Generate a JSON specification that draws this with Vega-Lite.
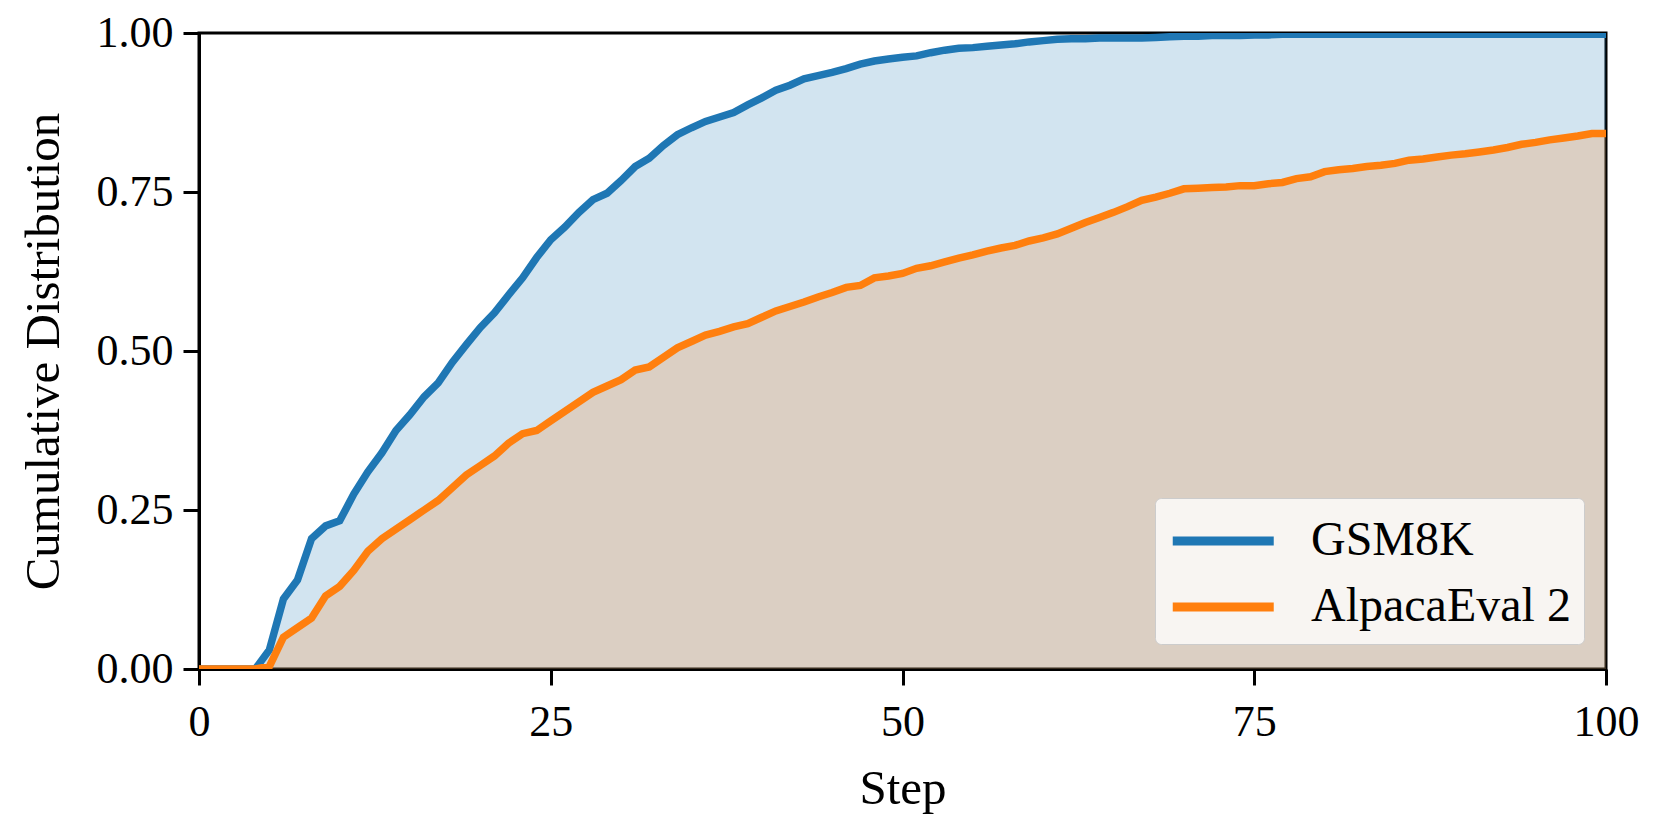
{
  "$schema": "https://vega.github.io/schema/vega-lite/v6.json",
  "autosize": "none",
  "width": 1407,
  "height": 636,
  "padding": {"left": 199, "top": 33, "right": 55, "bottom": 159},
  "background": "white",
  "config": {
    "view": {"stroke": "black", "strokeWidth": 3},
    "font": "Liberation Serif",
    "axis": {
      "labelFont": "Liberation Serif",
      "titleFont": "Liberation Serif",
      "labelFontSize": 44,
      "titleFontSize": 49,
      "titleFontWeight": "normal",
      "labelColor": "black",
      "titleColor": "black",
      "domainColor": "black",
      "domainWidth": 3,
      "tickColor": "black",
      "tickWidth": 3,
      "tickSize": 16,
      "grid": false
    }
  },
  "datasets": {
    "cdf": [
      {"step":0,"series":"GSM8K","value":0},{"step":1,"series":"GSM8K","value":0},{"step":2,"series":"GSM8K","value":0},{"step":3,"series":"GSM8K","value":0},{"step":4,"series":"GSM8K","value":0},
      {"step":5,"series":"GSM8K","value":0.03},{"step":6,"series":"GSM8K","value":0.11},{"step":7,"series":"GSM8K","value":0.14},{"step":8,"series":"GSM8K","value":0.205},{"step":9,"series":"GSM8K","value":0.225},
      {"step":10,"series":"GSM8K","value":0.233},{"step":11,"series":"GSM8K","value":0.275},{"step":12,"series":"GSM8K","value":0.31},{"step":13,"series":"GSM8K","value":0.34},{"step":14,"series":"GSM8K","value":0.375},
      {"step":15,"series":"GSM8K","value":0.4},{"step":16,"series":"GSM8K","value":0.428},{"step":17,"series":"GSM8K","value":0.45},{"step":18,"series":"GSM8K","value":0.482},{"step":19,"series":"GSM8K","value":0.51},
      {"step":20,"series":"GSM8K","value":0.537},{"step":21,"series":"GSM8K","value":0.56},{"step":22,"series":"GSM8K","value":0.588},{"step":23,"series":"GSM8K","value":0.615},{"step":24,"series":"GSM8K","value":0.647},
      {"step":25,"series":"GSM8K","value":0.675},{"step":26,"series":"GSM8K","value":0.695},{"step":27,"series":"GSM8K","value":0.718},{"step":28,"series":"GSM8K","value":0.738},{"step":29,"series":"GSM8K","value":0.748},
      {"step":30,"series":"GSM8K","value":0.768},{"step":31,"series":"GSM8K","value":0.79},{"step":32,"series":"GSM8K","value":0.803},{"step":33,"series":"GSM8K","value":0.823},{"step":34,"series":"GSM8K","value":0.84},
      {"step":35,"series":"GSM8K","value":0.851},{"step":36,"series":"GSM8K","value":0.861},{"step":37,"series":"GSM8K","value":0.868},{"step":38,"series":"GSM8K","value":0.875},{"step":39,"series":"GSM8K","value":0.887},
      {"step":40,"series":"GSM8K","value":0.898},{"step":41,"series":"GSM8K","value":0.91},{"step":42,"series":"GSM8K","value":0.918},{"step":43,"series":"GSM8K","value":0.928},{"step":44,"series":"GSM8K","value":0.933},
      {"step":45,"series":"GSM8K","value":0.938},{"step":46,"series":"GSM8K","value":0.944},{"step":47,"series":"GSM8K","value":0.951},{"step":48,"series":"GSM8K","value":0.956},{"step":49,"series":"GSM8K","value":0.959},
      {"step":50,"series":"GSM8K","value":0.962},{"step":51,"series":"GSM8K","value":0.964},{"step":52,"series":"GSM8K","value":0.969},{"step":53,"series":"GSM8K","value":0.973},{"step":54,"series":"GSM8K","value":0.976},
      {"step":55,"series":"GSM8K","value":0.977},{"step":56,"series":"GSM8K","value":0.979},{"step":57,"series":"GSM8K","value":0.981},{"step":58,"series":"GSM8K","value":0.983},{"step":59,"series":"GSM8K","value":0.986},
      {"step":60,"series":"GSM8K","value":0.988},{"step":61,"series":"GSM8K","value":0.99},{"step":62,"series":"GSM8K","value":0.991},{"step":63,"series":"GSM8K","value":0.991},{"step":64,"series":"GSM8K","value":0.992},
      {"step":65,"series":"GSM8K","value":0.992},{"step":66,"series":"GSM8K","value":0.992},{"step":67,"series":"GSM8K","value":0.992},{"step":68,"series":"GSM8K","value":0.993},{"step":69,"series":"GSM8K","value":0.994},
      {"step":70,"series":"GSM8K","value":0.995},{"step":71,"series":"GSM8K","value":0.995},{"step":72,"series":"GSM8K","value":0.996},{"step":73,"series":"GSM8K","value":0.996},{"step":74,"series":"GSM8K","value":0.996},
      {"step":75,"series":"GSM8K","value":0.997},{"step":76,"series":"GSM8K","value":0.997},{"step":77,"series":"GSM8K","value":0.998},{"step":78,"series":"GSM8K","value":0.998},{"step":79,"series":"GSM8K","value":0.998},
      {"step":80,"series":"GSM8K","value":0.998},{"step":81,"series":"GSM8K","value":0.998},{"step":82,"series":"GSM8K","value":0.998},{"step":83,"series":"GSM8K","value":0.998},{"step":84,"series":"GSM8K","value":0.998},
      {"step":85,"series":"GSM8K","value":0.998},{"step":86,"series":"GSM8K","value":0.998},{"step":87,"series":"GSM8K","value":0.998},{"step":88,"series":"GSM8K","value":0.998},{"step":89,"series":"GSM8K","value":0.998},
      {"step":90,"series":"GSM8K","value":0.998},{"step":91,"series":"GSM8K","value":0.998},{"step":92,"series":"GSM8K","value":0.998},{"step":93,"series":"GSM8K","value":0.998},{"step":94,"series":"GSM8K","value":0.998},
      {"step":95,"series":"GSM8K","value":0.998},{"step":96,"series":"GSM8K","value":0.998},{"step":97,"series":"GSM8K","value":0.998},{"step":98,"series":"GSM8K","value":0.998},{"step":99,"series":"GSM8K","value":0.998},
      {"step":100,"series":"GSM8K","value":0.998},
      {"step":0,"series":"AlpacaEval 2","value":0},{"step":1,"series":"AlpacaEval 2","value":0},{"step":2,"series":"AlpacaEval 2","value":0},{"step":3,"series":"AlpacaEval 2","value":0},{"step":4,"series":"AlpacaEval 2","value":0},
      {"step":5,"series":"AlpacaEval 2","value":0.004},{"step":6,"series":"AlpacaEval 2","value":0.05},{"step":7,"series":"AlpacaEval 2","value":0.065},{"step":8,"series":"AlpacaEval 2","value":0.08},{"step":9,"series":"AlpacaEval 2","value":0.115},
      {"step":10,"series":"AlpacaEval 2","value":0.13},{"step":11,"series":"AlpacaEval 2","value":0.155},{"step":12,"series":"AlpacaEval 2","value":0.185},{"step":13,"series":"AlpacaEval 2","value":0.205},{"step":14,"series":"AlpacaEval 2","value":0.22},
      {"step":15,"series":"AlpacaEval 2","value":0.235},{"step":16,"series":"AlpacaEval 2","value":0.25},{"step":17,"series":"AlpacaEval 2","value":0.265},{"step":18,"series":"AlpacaEval 2","value":0.285},{"step":19,"series":"AlpacaEval 2","value":0.305},
      {"step":20,"series":"AlpacaEval 2","value":0.32},{"step":21,"series":"AlpacaEval 2","value":0.335},{"step":22,"series":"AlpacaEval 2","value":0.355},{"step":23,"series":"AlpacaEval 2","value":0.37},{"step":24,"series":"AlpacaEval 2","value":0.375},
      {"step":25,"series":"AlpacaEval 2","value":0.39},{"step":26,"series":"AlpacaEval 2","value":0.405},{"step":27,"series":"AlpacaEval 2","value":0.42},{"step":28,"series":"AlpacaEval 2","value":0.435},{"step":29,"series":"AlpacaEval 2","value":0.445},
      {"step":30,"series":"AlpacaEval 2","value":0.455},{"step":31,"series":"AlpacaEval 2","value":0.47},{"step":32,"series":"AlpacaEval 2","value":0.475},{"step":33,"series":"AlpacaEval 2","value":0.49},{"step":34,"series":"AlpacaEval 2","value":0.505},
      {"step":35,"series":"AlpacaEval 2","value":0.515},{"step":36,"series":"AlpacaEval 2","value":0.525},{"step":37,"series":"AlpacaEval 2","value":0.531},{"step":38,"series":"AlpacaEval 2","value":0.538},{"step":39,"series":"AlpacaEval 2","value":0.543},
      {"step":40,"series":"AlpacaEval 2","value":0.553},{"step":41,"series":"AlpacaEval 2","value":0.563},{"step":42,"series":"AlpacaEval 2","value":0.57},{"step":43,"series":"AlpacaEval 2","value":0.577},{"step":44,"series":"AlpacaEval 2","value":0.585},
      {"step":45,"series":"AlpacaEval 2","value":0.592},{"step":46,"series":"AlpacaEval 2","value":0.6},{"step":47,"series":"AlpacaEval 2","value":0.603},{"step":48,"series":"AlpacaEval 2","value":0.615},{"step":49,"series":"AlpacaEval 2","value":0.618},
      {"step":50,"series":"AlpacaEval 2","value":0.622},{"step":51,"series":"AlpacaEval 2","value":0.63},{"step":52,"series":"AlpacaEval 2","value":0.634},{"step":53,"series":"AlpacaEval 2","value":0.64},{"step":54,"series":"AlpacaEval 2","value":0.646},
      {"step":55,"series":"AlpacaEval 2","value":0.651},{"step":56,"series":"AlpacaEval 2","value":0.657},{"step":57,"series":"AlpacaEval 2","value":0.662},{"step":58,"series":"AlpacaEval 2","value":0.666},{"step":59,"series":"AlpacaEval 2","value":0.673},
      {"step":60,"series":"AlpacaEval 2","value":0.678},{"step":61,"series":"AlpacaEval 2","value":0.684},{"step":62,"series":"AlpacaEval 2","value":0.693},{"step":63,"series":"AlpacaEval 2","value":0.702},{"step":64,"series":"AlpacaEval 2","value":0.71},
      {"step":65,"series":"AlpacaEval 2","value":0.718},{"step":66,"series":"AlpacaEval 2","value":0.727},{"step":67,"series":"AlpacaEval 2","value":0.737},{"step":68,"series":"AlpacaEval 2","value":0.742},{"step":69,"series":"AlpacaEval 2","value":0.748},
      {"step":70,"series":"AlpacaEval 2","value":0.755},{"step":71,"series":"AlpacaEval 2","value":0.756},{"step":72,"series":"AlpacaEval 2","value":0.757},{"step":73,"series":"AlpacaEval 2","value":0.758},{"step":74,"series":"AlpacaEval 2","value":0.76},
      {"step":75,"series":"AlpacaEval 2","value":0.76},{"step":76,"series":"AlpacaEval 2","value":0.763},{"step":77,"series":"AlpacaEval 2","value":0.765},{"step":78,"series":"AlpacaEval 2","value":0.771},{"step":79,"series":"AlpacaEval 2","value":0.774},
      {"step":80,"series":"AlpacaEval 2","value":0.782},{"step":81,"series":"AlpacaEval 2","value":0.785},{"step":82,"series":"AlpacaEval 2","value":0.787},{"step":83,"series":"AlpacaEval 2","value":0.79},{"step":84,"series":"AlpacaEval 2","value":0.792},
      {"step":85,"series":"AlpacaEval 2","value":0.795},{"step":86,"series":"AlpacaEval 2","value":0.8},{"step":87,"series":"AlpacaEval 2","value":0.802},{"step":88,"series":"AlpacaEval 2","value":0.805},{"step":89,"series":"AlpacaEval 2","value":0.808},
      {"step":90,"series":"AlpacaEval 2","value":0.81},{"step":91,"series":"AlpacaEval 2","value":0.813},{"step":92,"series":"AlpacaEval 2","value":0.816},{"step":93,"series":"AlpacaEval 2","value":0.82},{"step":94,"series":"AlpacaEval 2","value":0.825},
      {"step":95,"series":"AlpacaEval 2","value":0.828},{"step":96,"series":"AlpacaEval 2","value":0.832},{"step":97,"series":"AlpacaEval 2","value":0.835},{"step":98,"series":"AlpacaEval 2","value":0.838},{"step":99,"series":"AlpacaEval 2","value":0.842},
      {"step":100,"series":"AlpacaEval 2","value":0.842}
    ]
  },
  "data": {"name": "cdf"},
  "encoding": {
    "x": {
      "field": "step", "type": "quantitative", "title": "Step",
      "scale": {"domain": [0, 100], "nice": false, "zero": false},
      "axis": {"values": [0, 25, 50, 75, 100], "labelPadding": 15, "titlePadding": 20, "labelFlush": false}
    },
    "y": {
      "field": "value", "type": "quantitative", "title": "Cumulative Distribution",
      "scale": {"domain": [0, 1], "nice": false},
      "axis": {"values": [0, 0.25, 0.5, 0.75, 1], "format": ".2f", "labelPadding": 10, "titlePadding": 28, "labelFlush": false}
    }
  },
  "layer": [
    {
      "transform": [{"filter": "datum.series === 'GSM8K'"}],
      "mark": {"type": "area", "color": "#1f77b4", "opacity": 0.2},
      "encoding": {"y": {"field": "value", "type": "quantitative", "stack": null}}
    },
    {
      "transform": [{"filter": "datum.series === 'AlpacaEval 2'"}],
      "mark": {"type": "area", "color": "#ff7f0e", "opacity": 0.2},
      "encoding": {"y": {"field": "value", "type": "quantitative", "stack": null}}
    },
    {
      "transform": [{"filter": "datum.series === 'GSM8K'"}],
      "mark": {"type": "line", "strokeWidth": 7.5, "clip": true},
      "encoding": {
        "color": {
          "field": "series", "type": "nominal",
          "scale": {"domain": ["GSM8K", "AlpacaEval 2"], "range": ["#1f77b4", "#ff7f0e"]},
          "legend": {
            "title": null, "orient": "none", "legendX": 956, "legendY": 465,
            "symbolType": "M-1,0L3,0", "symbolSize": 2550, "symbolStrokeWidth": 9,
            "labelFont": "Liberation Serif", "labelFontSize": 48, "labelColor": "black", "labelLimit": 500,
            "labelOffset": 83, "rowPadding": 12, "padding": 13,
            "fillColor": "#f8f5f2", "strokeColor": "#cccccc", "cornerRadius": 6
          }
        }
      }
    },
    {
      "transform": [{"filter": "datum.series === 'AlpacaEval 2'"}],
      "mark": {"type": "line", "strokeWidth": 7.5, "clip": true},
      "encoding": {
        "color": {
          "field": "series", "type": "nominal",
          "scale": {"domain": ["GSM8K", "AlpacaEval 2"], "range": ["#1f77b4", "#ff7f0e"]}
        }
      }
    }
  ]
}
